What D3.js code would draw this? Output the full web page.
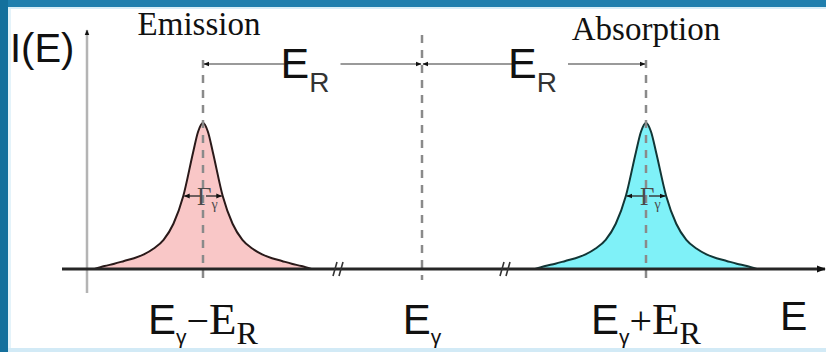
<!DOCTYPE html>
<html>
<head>
<meta charset="utf-8">
<script src="https://cdn.jsdelivr.net/npm/d3@7"></script>
<style>
  html, body { margin: 0; padding: 0; background: #ffffff; }
  svg { display: block; }
</style>
</head>
<body>
<svg id="chart" width="826" height="352"></svg>
<script>
// Line positions, in units of the recoil energy E_R measured from E_γ
const lineNames = ["Emission", "Absorption"];
const lineCenters = [-1, 1];
const tickValues = [-1, 0, 1];

// Lorentzian line profile: offset from the line centre in half-widths, relative intensity
const profileOffsets   = [-5.5, -5, -4.5, -4, -3.5, -3, -2.5, -2, -1.5, -1, -0.5, -0.25, 0, 0.25, 0.5, 1, 1.5, 2, 2.5, 3, 3.5, 4, 4.5, 5, 5.5];
const profileIntensity = [0, 0.02, 0.036, 0.055, 0.074, 0.1, 0.14, 0.2, 0.31, 0.5, 0.8, 0.94, 1, 0.94, 0.8, 0.5, 0.31, 0.2, 0.14, 0.1, 0.074, 0.055, 0.036, 0.02, 0];
const halfWidth = 0.09; // half width at half maximum, in units of E_R

const W = 826, H = 352;
const svg = d3.select("#chart");

const fills = ["#f9c7c7", "#7ff1f8"];
const edges = ["#2a1a1a", "#123636"];

// Energy axis (piecewise so the three markers sit where they belong)
const x = d3.scaleLinear().domain([-1, 0, 1]).range([203, 422, 646]);
const y = d3.scaleLinear().domain([0, 1]).range([269, 123]);

// frame
svg.append("rect").attr("x", 0).attr("y", 0).attr("width", W).attr("height", H).attr("fill", "#ffffff");
svg.append("rect").attr("x", 0).attr("y", 0).attr("width", W).attr("height", 7).attr("fill", "#1f7fae");
svg.append("rect").attr("x", 0).attr("y", 7).attr("width", W).attr("height", 2).attr("fill", "#d8eef8");
svg.append("rect").attr("x", 0).attr("y", 0).attr("width", 8).attr("height", H).attr("fill", "#14709d");
svg.append("rect").attr("x", 8).attr("y", 9).attr("width", 3).attr("height", H).attr("fill", "#e4f3fa");
svg.append("rect").attr("x", 8).attr("y", 348).attr("width", W).attr("height", 4).attr("fill", "#d2eaf6");

const defs = svg.append("defs");
function marker(id, color, size) {
  defs.append("marker")
    .attr("id", id).attr("viewBox", "0 0 10 10")
    .attr("refX", 9).attr("refY", 5)
    .attr("markerWidth", size).attr("markerHeight", size)
    .attr("markerUnits", "userSpaceOnUse")
    .attr("orient", "auto-start-reverse")
    .append("path").attr("d", "M0,1 L10,5 L0,9 Z").attr("fill", color);
}
marker("head", "#111", 9);
marker("headSmall", "#111", 6);

// line profiles
const area = d3.area()
  .x(d => d.e).y0(y(0)).y1(d => y(d.v))
  .curve(d3.curveMonotoneX);
const line = d3.line()
  .x(d => d.e).y(d => y(d.v))
  .curve(d3.curveMonotoneX);

lineCenters.forEach((c, i) => {
  const pts = profileOffsets.map((o, k) => ({ e: x(c + o * halfWidth), v: profileIntensity[k] }));
  svg.append("path").datum(pts).attr("d", area).attr("fill", fills[i]);
  svg.append("path").datum(pts).attr("d", line)
    .attr("fill", "none").attr("stroke", edges[i]).attr("stroke-width", 2);
});

// vertical dashed markers
const dashTop = [60, 35, 60];
tickValues.forEach((t, i) => {
  svg.append("line")
    .attr("x1", x(t)).attr("x2", x(t))
    .attr("y1", dashTop[i]).attr("y2", 280)
    .attr("stroke", "#8a8a8a").attr("stroke-width", 2.5)
    .attr("stroke-dasharray", "8,7");
});

// intensity axis
svg.append("line")
  .attr("x1", 87).attr("x2", 87).attr("y1", 293).attr("y2", 30)
  .attr("stroke", "#b4b4b4").attr("stroke-width", 2.5)
  .attr("marker-end", "url(#headSmall)");

// energy axis
svg.append("line")
  .attr("x1", 62).attr("x2", 825).attr("y1", y(0)).attr("y2", y(0))
  .attr("stroke", "#262626").attr("stroke-width", 3)
  .attr("marker-end", "url(#head)");

// axis breaks
[338, 505].forEach(bx => {
  svg.append("path")
    .attr("d", `M${bx - 5},${y(0) + 7} L${bx - 1},${y(0) - 7} M${bx + 1},${y(0) + 7} L${bx + 5},${y(0) - 7}`)
    .attr("stroke", "#333").attr("stroke-width", 1.6).attr("fill", "none");
});

// half-width markers
lineCenters.forEach(c => {
  const yh = y(0.5);
  [-1, 1].forEach(s => {
    svg.append("line")
      .attr("x1", x(c) + s * 3).attr("x2", x(c + s * halfWidth) - s * 1)
      .attr("y1", yh).attr("y2", yh)
      .attr("stroke", "#333").attr("stroke-width", 1.4)
      .attr("marker-end", "url(#headSmall)");
  });
  const g = svg.append("text")
    .attr("x", x(c) - 6).attr("y", yh + 9)
    .attr("font-family", "Liberation Serif, serif").attr("fill", "#4a4a4a");
  g.append("tspan").attr("font-size", 25).text("Γ");
  g.append("tspan").attr("font-size", 14).attr("dy", 4).text("γ");
});

// recoil-energy arrows
const arrowY = 64;
[[-1, 0, -28, 28], [0, 1, -22, 34]].forEach(([a, b, gl, gr]) => {
  const mid = (x(a) + x(b)) / 2;
  svg.append("line")
    .attr("x1", mid + gl).attr("x2", x(a) + 1).attr("y1", arrowY).attr("y2", arrowY)
    .attr("stroke", "#9a9a9a").attr("stroke-width", 2.2)
    .attr("marker-end", "url(#headSmall)");
  svg.append("line")
    .attr("x1", mid + gr).attr("x2", x(b) - 1).attr("y1", arrowY).attr("y2", arrowY)
    .attr("stroke", "#9a9a9a").attr("stroke-width", 2.2)
    .attr("marker-end", "url(#headSmall)");
  const t = svg.append("text")
    .attr("x", mid + gl - 4).attr("y", 78)
    .attr("font-family", "Liberation Sans, Arial, sans-serif").attr("fill", "#111");
  t.append("tspan").attr("font-size", 43).text("E");
  t.append("tspan").attr("font-size", 28).attr("dy", 14).attr("fill", "#333").text("R");
});

// titles
svg.append("text")
  .attr("x", x(lineCenters[0]) - 4).attr("y", 35).attr("text-anchor", "middle")
  .attr("font-family", "Liberation Serif, serif").attr("font-size", 33).attr("fill", "#111")
  .text(lineNames[0]);
svg.append("text")
  .attr("x", x(lineCenters[1])).attr("y", 40).attr("text-anchor", "middle")
  .attr("font-family", "Liberation Serif, serif").attr("font-size", 33).attr("fill", "#111")
  .text(lineNames[1]);

// axis titles
svg.append("text")
  .attr("x", 10).attr("y", 62)
  .attr("font-family", "Liberation Sans, Arial, sans-serif").attr("font-size", 40).attr("fill", "#111")
  .text("I(E)");
svg.append("text")
  .attr("x", 780).attr("y", 330)
  .attr("font-family", "Liberation Sans, Arial, sans-serif").attr("font-size", 41).attr("fill", "#111")
  .text("E");

// energy tick labels
const sans = "Liberation Sans, Arial, sans-serif";
const serif = "Liberation Serif, serif";
const tickParts = [
  [["E", sans, 42, 0], ["γ", sans, 21, 10], ["−", serif, 40, -10], ["E", serif, 45, 0], ["R", serif, 32, 10]],
  [["E", sans, 42, 0], ["γ", sans, 21, 10]],
  [["E", sans, 42, 0], ["γ", sans, 21, 10], ["+", serif, 40, -10], ["E", serif, 45, 0], ["R", serif, 32, 10]]
];
tickValues.forEach((t, i) => {
  const txt = svg.append("text")
    .attr("x", x(t)).attr("y", 334).attr("text-anchor", "middle").attr("fill", "#111");
  tickParts[i].forEach(([s, f, sz, dy]) => {
    txt.append("tspan").attr("font-family", f).attr("font-size", sz).attr("dy", dy).text(s);
  });
});
</script>
</body>
</html>
